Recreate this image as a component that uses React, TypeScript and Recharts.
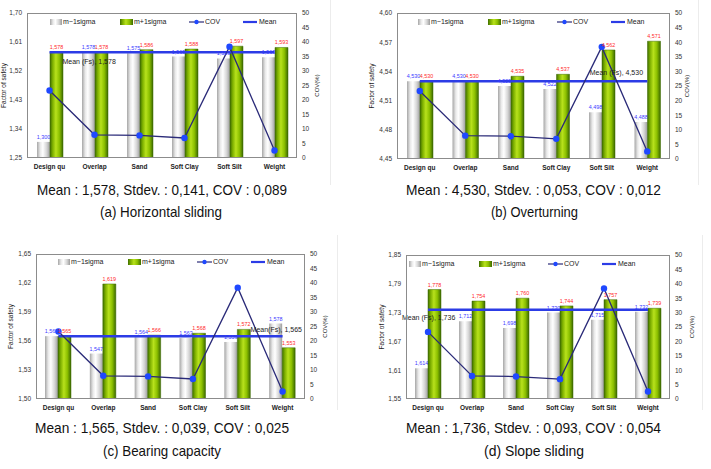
import React from "react";
import {
  ComposedChart,
  Bar,
  Line,
  XAxis,
  YAxis,
  Legend,
  LabelList,
} from "recharts";

// ---- data ----
const categories = ["Design qu", "Overlap", "Sand", "Soft Clay", "Soft Silt", "Weight"];

// COV of each input parameter (%), same for every failure mode
const covPercent = [23.3, 8.0, 7.8, 6.9, 38.4, 2.6];
const covTicks = [0, 5, 10, 15, 20, 25, 30, 35, 40, 45, 50];

const slidingLow = [1.3, 1.578, 1.575, 1.565, 1.559, 1.563];
const slidingHigh = [1.578, 1.578, 1.586, 1.588, 1.597, 1.593];
const slidingTicks = [1.25, 1.34, 1.43, 1.52, 1.61, 1.7];

const overturnLow = [4.53, 4.53, 4.525, 4.522, 4.498, 4.488];
const overturnHigh = [4.53, 4.53, 4.535, 4.537, 4.562, 4.571];
const overturnTicks = [4.45, 4.48, 4.51, 4.54, 4.57, 4.6];

const bearingLow = [1.565, 1.547, 1.564, 1.563, 1.559, 1.578];
const bearingHigh = [1.565, 1.619, 1.566, 1.568, 1.572, 1.553];
const bearingTicks = [1.5, 1.53, 1.56, 1.59, 1.62, 1.65];

const slopeLow = [1.614, 1.712, 1.698, 1.73, 1.715, 1.732];
const slopeHigh = [1.778, 1.754, 1.76, 1.744, 1.757, 1.739];
const slopeTicks = [1.55, 1.61, 1.67, 1.73, 1.79, 1.85];

const meanFs = [1.578, 4.53, 1.565, 1.736];

const summaries = [
  "Mean : 1,578, Stdev. : 0,141, COV : 0,089",
  "Mean : 4,530, Stdev. : 0,053, COV : 0,012",
  "Mean : 1,565, Stdev. : 0,039, COV : 0,025",
  "Mean : 1,736, Stdev. : 0,093, COV : 0,054",
];
const captions = [
  "(a) Horizontal sliding",
  "(b) Overturning",
  "(c) Bearing capacity",
  "(d) Slope sliding",
];

// ---- layout ----
const FONT = "'Liberation Sans', Arial, sans-serif";
const CHART_H = 180;

type Panel = {
  id: string;
  low: number[];
  high: number[];
  ticks: number[];
  mean: number;
  left: number;
  top: number;
  width: number;
  plot: { x0: number; y0: number; x1: number; y1: number };
  factorX: number;
  covX: number;
  legendDx: number;
  legendY: number;
  meanLabel: { index: number; dx: number; dy: number; prefix: string };
  summaryX: [number, number];
  captionX: [number, number];
  summaryY: number;
  captionY: number;
};

const panels: Panel[] = [
  {
    id: "a", low: slidingLow, high: slidingHigh, ticks: slidingTicks, mean: meanFs[0],
    left: 0, top: 0, width: 355, plot: { x0: 27, y0: 13, x1: 297, y1: 158 },
    factorX: 4, covX: 317, legendDx: 23, legendY: 22,
    meanLabel: { index: 0, dx: 13, dy: 9, prefix: "Mean (Fs)" },
    summaryX: [37, 287], captionX: [100, 222], summaryY: 190, captionY: 212,
  },
  {
    id: "b", low: overturnLow, high: overturnHigh, ticks: overturnTicks, mean: meanFs[1],
    left: 355, top: 0, width: 356, plot: { x0: 397, y0: 13, x1: 670, y1: 159 },
    factorX: 372, covX: 687, legendDx: 21, legendY: 22,
    meanLabel: { index: 4, dx: -12, dy: -9, prefix: "Mean (Fs)" },
    summaryX: [406, 661], captionX: [491, 578], summaryY: 190, captionY: 212,
  },
  {
    id: "c", low: bearingLow, high: bearingHigh, ticks: bearingTicks, mean: meanFs[2],
    left: 0, top: 235, width: 355, plot: { x0: 36, y0: 254, x1: 305, y1: 399 },
    factorX: 11, covX: 325, legendDx: 22, legendY: 262,
    meanLabel: { index: 5, dx: -32, dy: -7, prefix: "Mean(Fs)" },
    summaryX: [35, 289], captionX: [103, 221], summaryY: 428, captionY: 451,
  },
  {
    id: "d", low: slopeLow, high: slopeHigh, ticks: slopeTicks, mean: meanFs[3],
    left: 355, top: 235, width: 356, plot: { x0: 406, y0: 255, x1: 670, y1: 399 },
    factorX: 382, covX: 692, legendDx: 3, legendY: 264,
    meanLabel: { index: 0, dx: -26, dy: 8, prefix: "Mean (Fs)" },
    summaryX: [406, 661], captionX: [484, 584], summaryY: 428, captionY: 451,
  },
];

const fmt2 = (v: number) => v.toFixed(2).replace(".", ",");
const fmt3 = (v: number) => Number(v).toFixed(3).replace(".", ",");

function LegendRow({ id, dx }: { id: string; dx: number }) {
  const ty = 5;
  const txt = { fontSize: 7, fill: "#222", fontFamily: FONT };
  return (
    <svg width={260} height={10} style={{ display: "block", overflow: "visible" }}>
      <g transform={`translate(${dx},0)`}>
        <rect x={0} y={2} width={12} height={6} fill={`url(#low-${id})`} />
        <text x={13} y={ty} dy="0.35em" {...txt}>m−1sigma</text>
        <rect x={70} y={2} width={13} height={6} fill={`url(#high-${id})`} />
        <text x={84} y={ty} dy="0.35em" {...txt}>m+1sigma</text>
        <line x1={139} x2={154} y1={ty} y2={ty} stroke="#2a2a78" strokeWidth={1.2} />
        <circle cx={146.5} cy={ty} r={2.2} fill="#1f48ff" />
        <text x={155} y={ty} dy="0.35em" {...txt}>COV</text>
        <line x1={193} x2={207} y1={ty} y2={ty} stroke="#2c3ce6" strokeWidth={2.2} />
        <text x={209} y={ty} dy="0.35em" {...txt}>Mean</text>
      </g>
    </svg>
  );
}

function MeanChart({ p }: { p: Panel }) {
  const rows = categories.map((name, i) => ({
    name,
    low: p.low[i],
    high: p.high[i],
    cov: covPercent[i],
    mean: p.mean,
  }));
  const top = p.plot.y0 - p.top;
  const leftW = p.plot.x0 - p.left;
  const rightW = p.left + p.width - p.plot.x1;
  const xH = p.top + CHART_H - p.plot.y1;
  const tickStyle = { fontSize: 6.5, fill: "#333", fontFamily: FONT };
  const ml = p.meanLabel;

  const MeanLabel = (props: any) => {
    const { x, y, index, value } = props;
    if (index !== ml.index) return null;
    return (
      <text x={x + ml.dx} y={y + ml.dy} dy="0.35em" fontSize={7} fill="#222" fontFamily={FONT}>
        {`${ml.prefix}, ${fmt3(value)}`}
      </text>
    );
  };

  return (
    <div style={{ position: "absolute", left: p.left, top: p.top, width: p.width, height: CHART_H }}>
      <ComposedChart
        width={p.width}
        height={CHART_H}
        data={rows}
        margin={{ top, right: 0, bottom: 0, left: 0 }}
        barGap={0}
        style={{ fontFamily: FONT }}
      >
        <defs>
          <linearGradient id={`low-${p.id}`} x1="0" y1="0" x2="1" y2="0">
            <stop offset="0%" stopColor="#a6a6a6" />
            <stop offset="25%" stopColor="#e9e9e9" />
            <stop offset="45%" stopColor="#ffffff" />
            <stop offset="75%" stopColor="#d4d4d4" />
            <stop offset="100%" stopColor="#9c9c9c" />
          </linearGradient>
          <linearGradient id={`high-${p.id}`} x1="0" y1="0" x2="1" y2="0">
            <stop offset="0%" stopColor="#3f6e00" />
            <stop offset="20%" stopColor="#7cae00" />
            <stop offset="45%" stopColor="#b8e21c" />
            <stop offset="72%" stopColor="#8cc000" />
            <stop offset="100%" stopColor="#3b6800" />
          </linearGradient>
        </defs>
        <XAxis
          dataKey="name"
          height={xH}
          interval={0}
          axisLine={false}
          tickLine={false}
          tickSize={4}
          tickMargin={2}
          tick={{ fontSize: 6.5, fontWeight: 700, fill: "#222", fontFamily: FONT }}
        />
        <YAxis
          yAxisId="fs"
          width={leftW}
          domain={[p.ticks[0], p.ticks[p.ticks.length - 1]]}
          ticks={p.ticks}
          allowDataOverflow
          tickFormatter={fmt2}
          axisLine={false}
          tickLine={false}
          tickSize={3}
          tickMargin={2}
          tick={tickStyle}
        />
        <YAxis
          yAxisId="cov"
          orientation="right"
          width={rightW}
          domain={[0, 50]}
          ticks={covTicks}
          axisLine={false}
          tickLine={false}
          tickSize={3}
          tickMargin={2}
          tick={tickStyle}
        />
        <Legend
          verticalAlign="middle"
          layout="horizontal"
          wrapperStyle={{ left: leftW, top: p.legendY - p.top - 5, width: 260, height: 10 }}
          content={() => <LegendRow id={p.id} dx={p.legendDx} />}
        />
        <Bar yAxisId="fs" dataKey="low" barSize={13} fill={`url(#low-${p.id})`} isAnimationActive={false}>
          <LabelList
            dataKey="low"
            position="top"
            offset={3}
            formatter={(v: any) => fmt3(v)}
            style={{ fontSize: 5.4, fill: "#3a3aff", fontFamily: FONT }}
          />
        </Bar>
        <Bar
          yAxisId="fs"
          dataKey="high"
          barSize={13}
          fill={`url(#high-${p.id})`}
          stroke="#3d6a00"
          strokeWidth={0.5}
          isAnimationActive={false}
        >
          <LabelList
            dataKey="high"
            position="top"
            offset={3}
            formatter={(v: any) => fmt3(v)}
            style={{ fontSize: 5.4, fill: "#ff2a2a", fontFamily: FONT }}
          />
        </Bar>
        <Line
          yAxisId="fs"
          dataKey="mean"
          stroke="#2c3ce6"
          strokeWidth={2.5}
          dot={false}
          isAnimationActive={false}
        >
          <LabelList dataKey="mean" content={MeanLabel} />
        </Line>
        <Line
          yAxisId="cov"
          dataKey="cov"
          stroke="#2a2a78"
          strokeWidth={1.3}
          dot={{ r: 3.2, fill: "#1f48ff", stroke: "#1f48ff", strokeWidth: 0 }}
          isAnimationActive={false}
        />
      </ComposedChart>
      {/* plot frame */}
      <div
        style={{
          position: "absolute",
          left: leftW,
          top,
          width: p.plot.x1 - p.plot.x0,
          height: p.plot.y1 - p.plot.y0,
          border: "1px solid #8c8c8c",
          boxSizing: "border-box",
          pointerEvents: "none",
        }}
      />
    </div>
  );
}

export default function App() {
  return (
    <div
      style={{
        position: "absolute",
        left: 0,
        top: 0,
        width: 711,
        height: 469,
        background: "#fff",
        overflow: "hidden",
        fontFamily: FONT,
      }}
    >
      <svg width={711} height={469} style={{ position: "absolute", left: 0, top: 0 }}>
        {/* faint edges of the pasted panels */}
        <line x1={330.5} x2={330.5} y1={0} y2={185} stroke="#ececec" />
        <line x1={698.5} x2={698.5} y1={0} y2={185} stroke="#ececec" />
        <line x1={337.5} x2={337.5} y1={235} y2={410} stroke="#ececec" />
        <line x1={702.5} x2={702.5} y1={235} y2={410} stroke="#ececec" />
        {panels.map((p) => {
          const cy = (p.plot.y0 + p.plot.y1) / 2;
          return (
            <g key={p.id}>
              <text
                x={p.factorX}
                y={cy}
                transform={`rotate(-90 ${p.factorX} ${cy})`}
                textAnchor="middle"
                dy="0.35em"
                fontSize={6.5}
                fill="#222"
              >
                Factor of safety
              </text>
              <text
                x={p.covX}
                y={cy}
                transform={`rotate(-90 ${p.covX} ${cy})`}
                textAnchor="middle"
                dy="0.35em"
                fontSize={6}
                fill="#222"
              >
                COV(%)
              </text>
            </g>
          );
        })}
        {panels.map((p, i) => (
          <g key={`t-${p.id}`} fill="#111" fontSize={15}>
            <text
              x={(p.summaryX[0] + p.summaryX[1]) / 2}
              y={p.summaryY}
              dy="0.35em"
              textAnchor="middle"
              textLength={p.summaryX[1] - p.summaryX[0]}
              lengthAdjust="spacingAndGlyphs"
            >
              {summaries[i]}
            </text>
            <text
              x={(p.captionX[0] + p.captionX[1]) / 2}
              y={p.captionY}
              dy="0.35em"
              textAnchor="middle"
              textLength={p.captionX[1] - p.captionX[0]}
              lengthAdjust="spacingAndGlyphs"
            >
              {captions[i]}
            </text>
          </g>
        ))}
      </svg>
      {panels.map((p) => (
        <MeanChart key={p.id} p={p} />
      ))}
    </div>
  );
}
